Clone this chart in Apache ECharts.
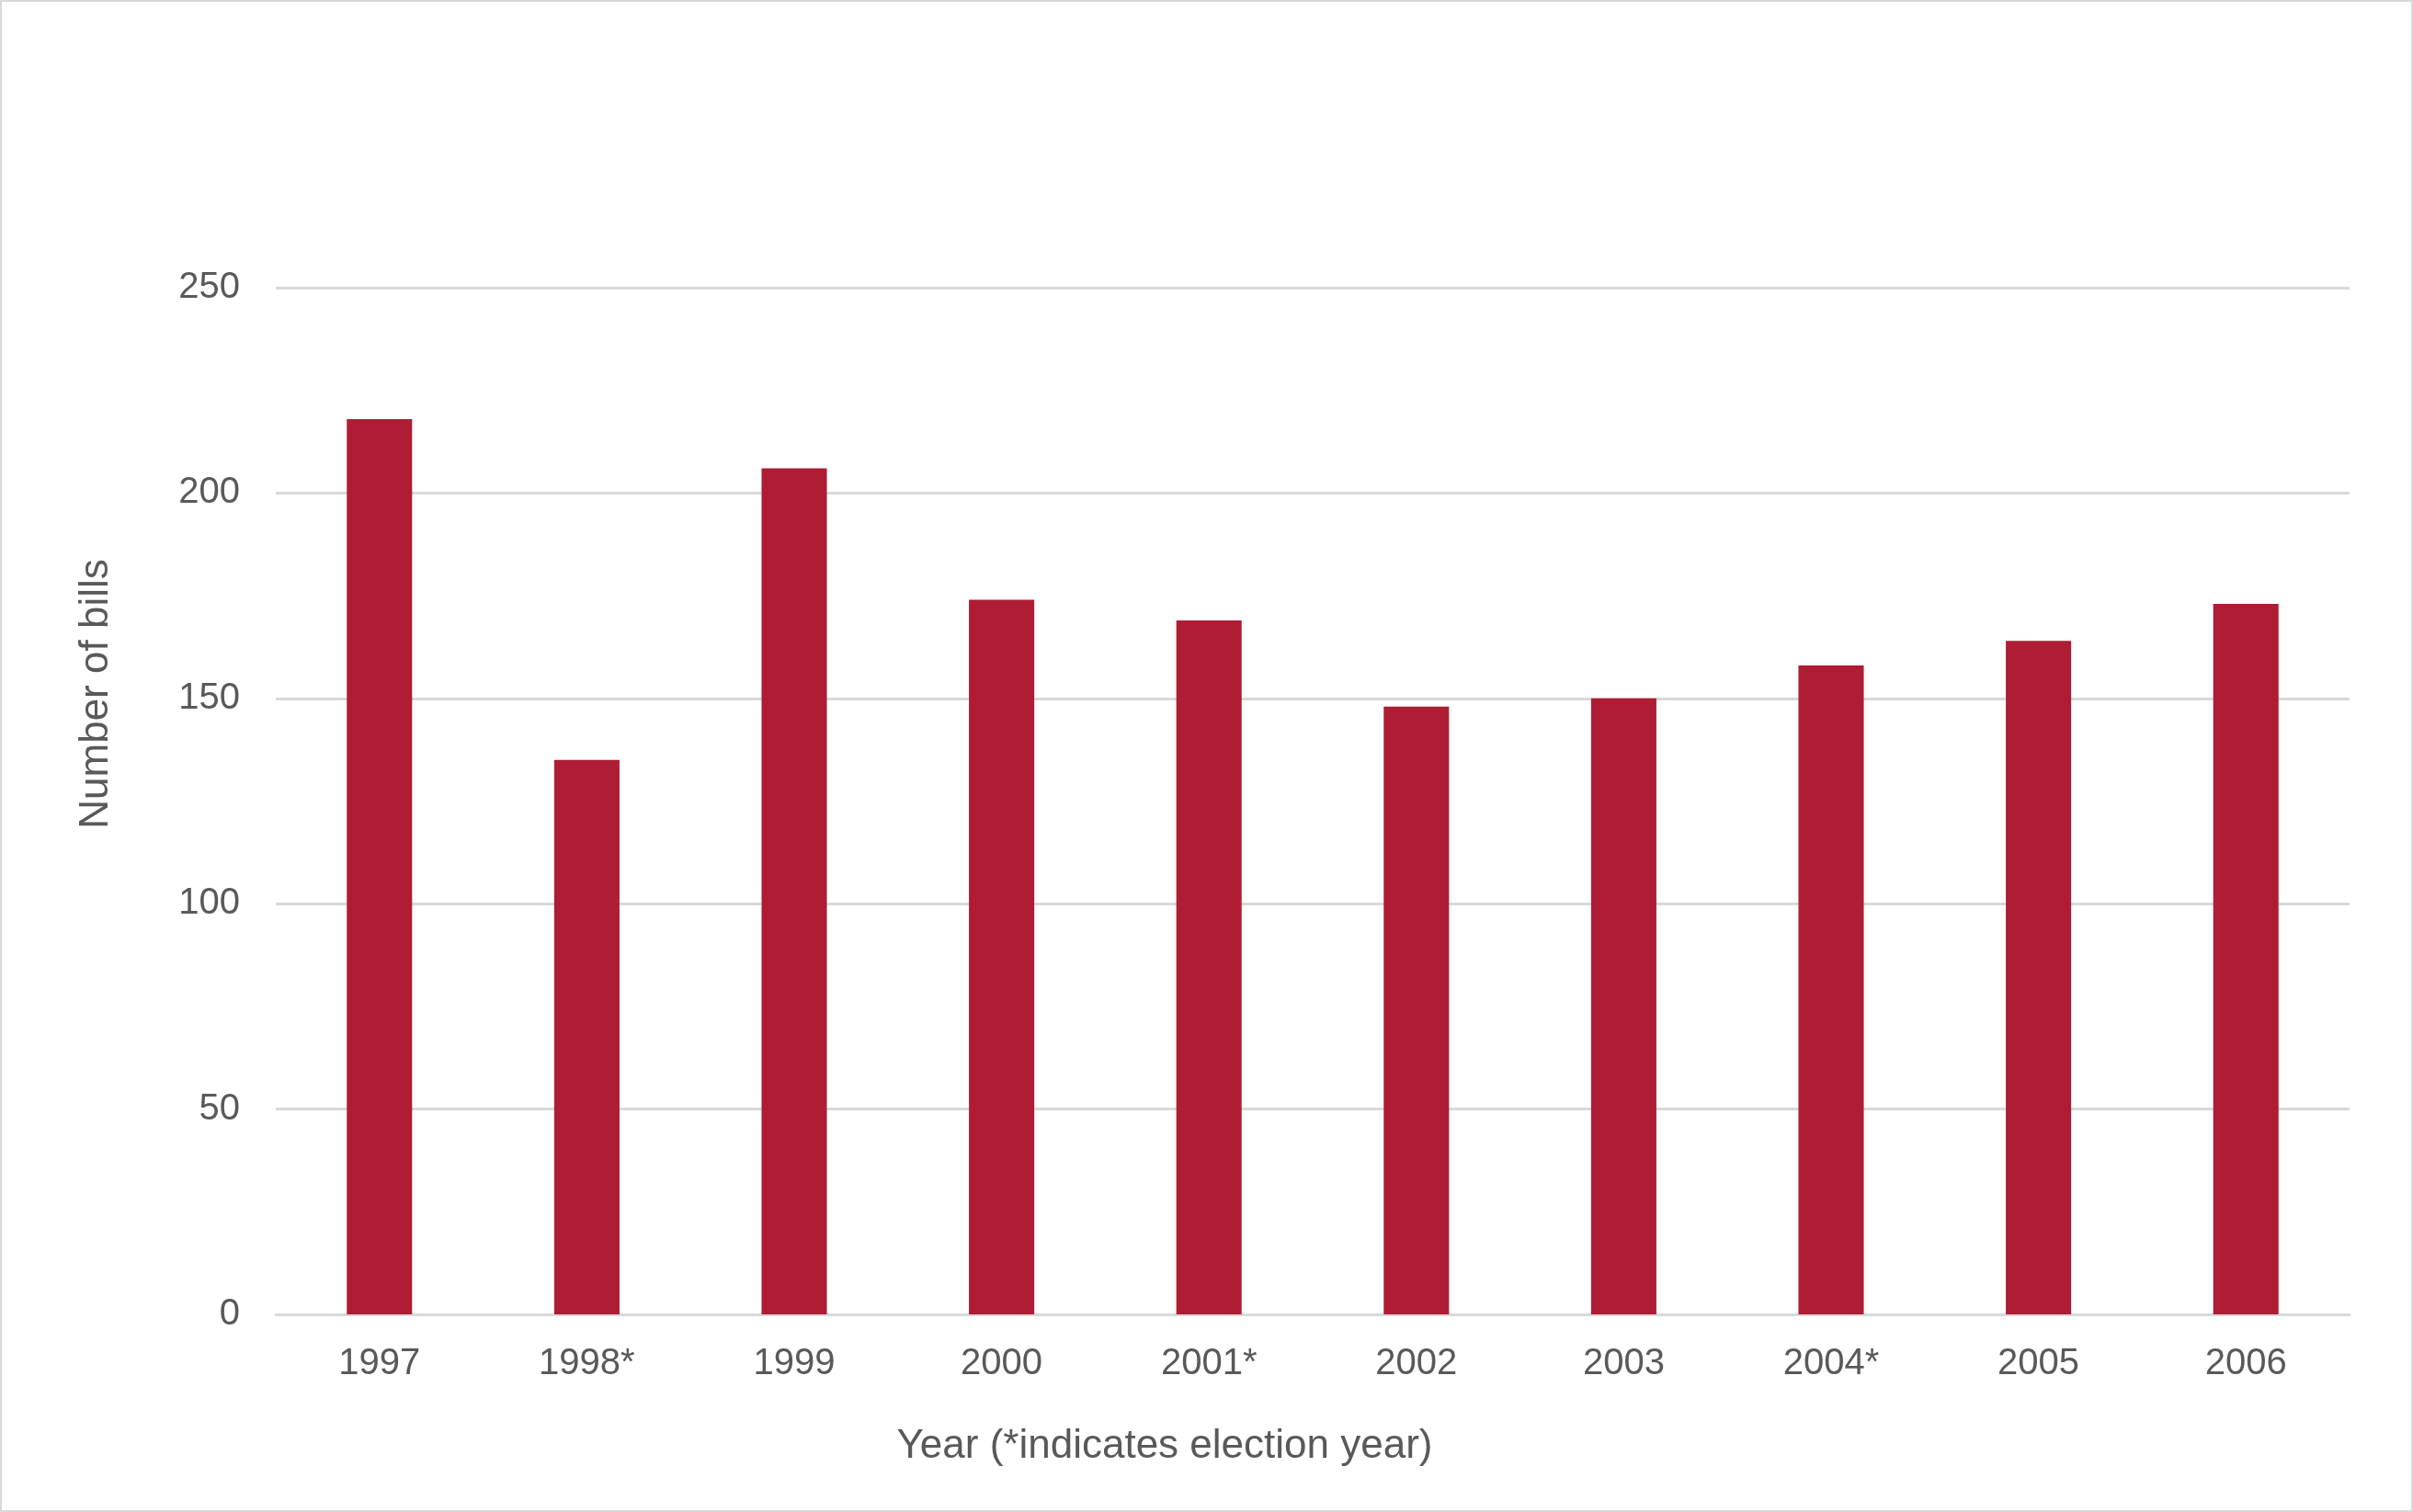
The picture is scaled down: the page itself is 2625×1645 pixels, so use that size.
<!DOCTYPE html>
<html>
<head>
<meta charset="utf-8">
<script src="https://cdn.jsdelivr.net/npm/echarts@6/dist/echarts.min.js"></script>
<style>
  html, body { margin: 0; padding: 0; background: #fff; }
  #chart { width: 2625px; height: 1645px; }
</style>
</head>
<body>
<div id="chart"></div>
<script>
var years = ['1997', '1998*', '1999', '2000', '2001*', '2002', '2003', '2004*', '2005', '2006'];
var bills = [218, 135, 206, 174, 169, 148, 150, 158, 164, 173];
var yTicks = [0, 50, 100, 150, 200, 250];

var textColor = '#595959';
var lineColor = '#d9d9d9';
var fontFamily = '"Liberation Sans", Arial, sans-serif';

var chart = echarts.init(document.getElementById('chart'));
chart.setOption({
    animation: false,
    textStyle: { fontFamily: fontFamily },
    grid: { left: 300, right: 69, top: 313, bottom: 215 },
    graphic: [{
        type: 'rect',
        shape: { x: 1, y: 1, width: 2623, height: 1643 },
        style: { fill: 'none', stroke: lineColor, lineWidth: 2 },
        silent: true
    }, {
        // x axis title sits left of the plot centre in the original
        type: 'text',
        x: 1267,
        y: 1574,
        style: {
            text: 'Year (*indicates election year)',
            fill: textColor,
            font: '44px ' + fontFamily,
            textAlign: 'center',
            textVerticalAlign: 'middle'
        }
    }, {
        type: 'text',
        x: 105,
        y: 755,
        rotation: Math.PI / 2,
        style: {
            text: 'Number of bills',
            fill: textColor,
            font: '44px ' + fontFamily,
            textAlign: 'center',
            textVerticalAlign: 'middle'
        }
    }],
    xAxis: {
        type: 'category',
        data: years,
        axisLine: { lineStyle: { color: lineColor, width: 3 } },
        axisTick: { show: false },
        axisLabel: { color: textColor, fontSize: 40, margin: 34 }
    },
    yAxis: {
        type: 'value',
        min: yTicks[0],
        max: yTicks[yTicks.length - 1],
        interval: 50,
        axisLine: { show: false },
        axisTick: { show: false },
        axisLabel: { color: textColor, fontSize: 40, margin: 39 },
        splitLine: { lineStyle: { color: lineColor, width: 3 } }
    },
    series: [{
        type: 'bar',
        data: bills,
        barWidth: '31.5%',
        itemStyle: { color: '#ae1d34' }
    }]
});
</script>
</body>
</html>
